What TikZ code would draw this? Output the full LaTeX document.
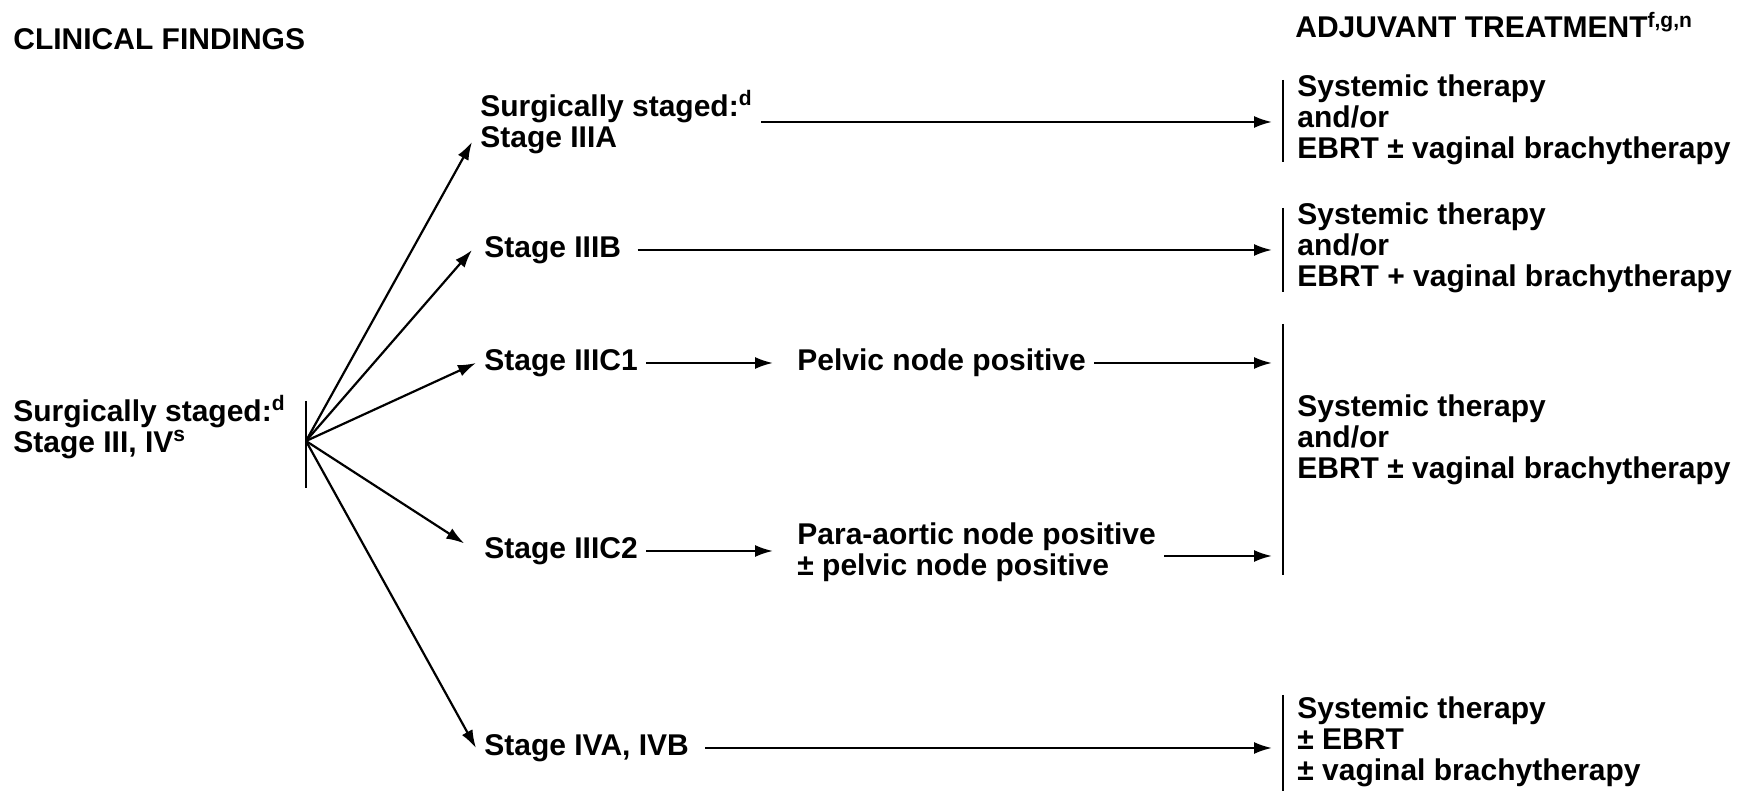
\documentclass[tikz,border=0pt]{standalone}
\usepackage{fontspec}
\setmainfont{Liberation Sans}
\usetikzlibrary{arrows.meta}
\tikzstyle{txt} = [anchor=west, align=left, inner sep=4pt, font=\fontsize{15pt}{15.5pt}\selectfont\bfseries]
\tikzstyle{arr} = [line width=1.1pt, -{Latex[length=9pt,width=6pt]}]
\tikzstyle{bar} = [line width=1.4pt]

\begin{document}
\begin{tikzpicture}[x=0.5pt, y=0.5pt]
\useasboundingbox (0,0) rectangle (1750,791);
% headings
\node[txt] (clin) at (5,752) {CLINICAL FINDINGS};
\node[txt] (adj) at (1287,766) {ADJUVANT TREATMENT\textsuperscript{f,g,n}};
% clinical findings
\node[txt] (root) at (5,364) {Surgically staged:\textsuperscript{d}\\Stage III, IV\textsuperscript{s}};
\coordinate (hub) at (306,350);
\draw[bar] (306,390) -- (306,303);
\node[txt] (sA) at (472,669) {Surgically staged:\textsuperscript{d}\\Stage IIIA};
\node[txt] (sB) at (476,541) {Stage IIIB};
\node[txt] (sC1) at (476,428) {Stage IIIC1};
\node[txt] (sC2) at (476,240) {Stage IIIC2};
\node[txt] (sIV) at (476,43) {Stage IVA, IVB};
\node[txt] (pel) at (789,428) {Pelvic node positive};
\node[txt] (para) at (789,239) {Para-aortic node positive\\± pelvic node positive};
% adjuvant treatment
\node[txt] (r1) at (1289,671) {Systemic therapy\\and/or\\EBRT ± vaginal brachytherapy};
\node[txt] (r2) at (1289,543) {Systemic therapy\\and/or\\EBRT + vaginal brachytherapy};
\node[txt] (r3) at (1289,351) {Systemic therapy\\and/or\\EBRT ± vaginal brachytherapy};
\node[txt] (r4) at (1289,49) {Systemic therapy\\± EBRT\\± vaginal brachytherapy};
\foreach \t/\b in {711/629, 583/499, 467/216, 96/0}
    \draw[bar] (1283,\t) -- (1283,\b);
\coordinate (tip) at (1272,0);
% arrows
\draw[arr] (hub) -- ([yshift=-10pt]sA.west);
\draw[arr] (hub) -- ([xshift=-2pt]sB.west);
\draw[arr] (hub) -- (sC1.west);
\draw[arr, shorten >=7pt] (hub) -- (sC2.west);
\draw[arr] (hub) -- (sIV.west);
\draw[arr] (sA.east) -- (sA.east -| tip);
\draw[arr] ([xshift=4pt]sB.east) -- (sB.east -| tip);
\draw[arr, shorten >=8pt] (sC1.east) -- (pel.west);
\draw[arr, shorten >=8pt] (sC2.east) -- (sC2.east -| para.west);
\draw[arr] (pel.east) -- (pel.east -| tip);
\draw[arr] ([yshift=-2pt]para.east) -- ([yshift=-2pt]para.east -| tip);
\draw[arr] ([xshift=4pt]sIV.east) -- (sIV.east -| tip);
\end{tikzpicture}
\end{document}
